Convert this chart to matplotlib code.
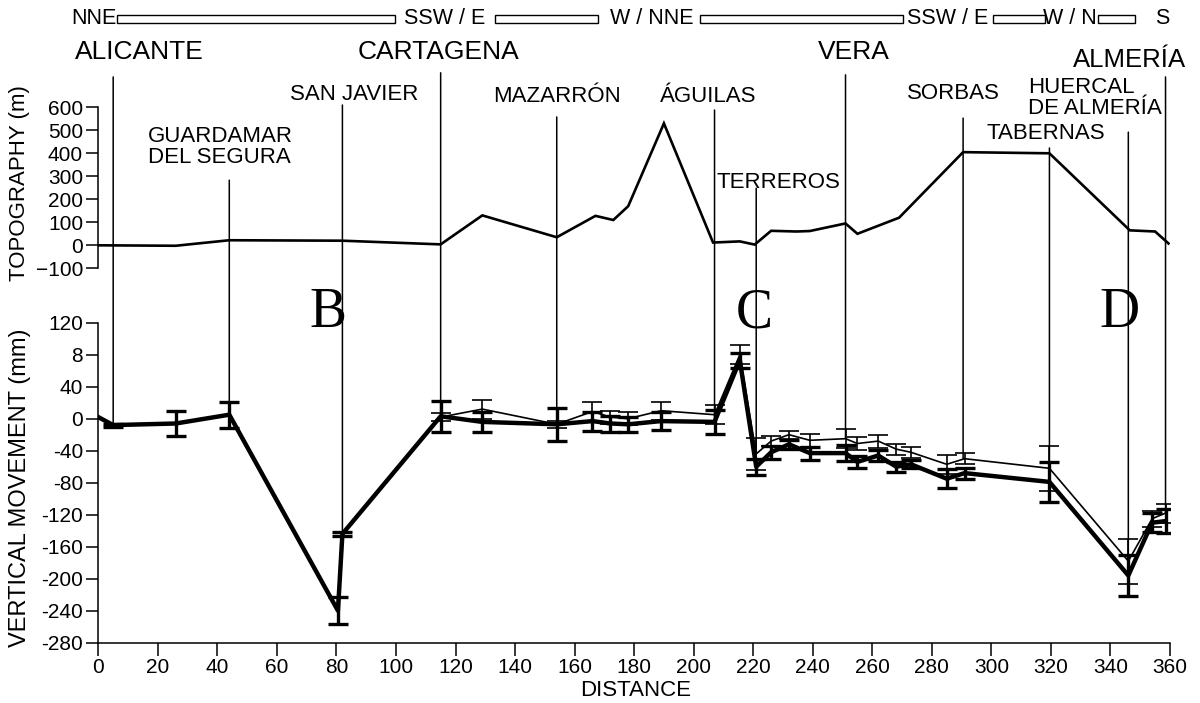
#!/usr/bin/env python3
"""Topography + levelling profile Alicante -> Almeria. -> out.png"""
import matplotlib
matplotlib.use("Agg")
import matplotlib.pyplot as plt
import matplotlib.transforms as mtransforms
from matplotlib.patches import Rectangle, ConnectionPatch
import numpy as np

plt.rcParams.update({"font.family": ["Liberation Sans", "DejaVu Sans"], "font.size": 15})

# topography profile (m)
topo_x = [0, 26, 44, 82, 115, 129, 154, 167, 173, 178, 190, 206.5, 215.5, 220.5, 226, 234.5, 239,
          251, 255, 269, 290.5, 319.5, 346.5, 355, 359.5]
topo_z = [0, -2, 22, 20, 4, 130, 35, 128, 110, 170, 530, 12, 17, 3, 63, 60, 62,
          95, 50, 120, 405, 400, 65, 60, 8]

# vertical movement, thick series (mm)
thick_x = [0, 5, 26, 44, 80.5, 82, 115, 129, 154, 166, 172, 178, 189, 207, 215.5, 221, 226, 232, 239,
           251, 255, 262, 268, 273, 285, 291, 319.5, 346, 354, 358.5]
thick_v = [2, -8, -6, 5, -240, -144, 3, -4, -7, -3, -6, -7, -3, -4, 73, -60, -42, -32, -43,
           -43, -54, -46, -60, -57, -75, -68, -79, -196, -130, -128]
thick_e = [0, 2, 16, 16, 17, 2, 19, 13, 21, 12, 10, 9, 11, 15, 9, 10, 8, 6, 8,
           10, 8, 7, 6, 5, 12, 7, 25, 26, 12, 15]

# vertical movement, thin series (mm)
thin_x = [115, 129, 154, 166, 172, 178, 189, 207, 215.5, 221, 226, 232, 239,
          251, 255, 262, 268, 273, 285, 291, 319.5, 346, 354, 358.5]
thin_v = [2, 12, -7, 9, 2, 0, 10, 5, 80, -44, -28, -20, -27,
          -25, -31, -28, -38, -42, -57, -50, -62, -178, -125, -118]
thin_e = [5, 12, 4, 12, 8, 8, 11, 12, 12, 20, 6, 5, 8,
          12, 8, 8, 7, 7, 12, 7, 28, 28, 10, 12]

# stations: name, x, line top (topo m), line base (mm), label left x, label y (topo m), size
stations = [
    ("ALICANTE", 5, 732, -8, -7.8, 841, 19),
    ("GUARDAMAR\nDEL SEGURA", 44, 283, 5, 16.7, 427, 16),
    ("SAN JAVIER", 82, 610, -144, 64.4, 654, 16),
    ("CARTAGENA", 115, 750, 3, 87.2, 841, 19),
    ("MAZARRÓN", 154, 558, -7, 132.6, 645, 16),
    ("ÁGUILAS", 207, 588, -4, 188.7, 649, 16),
    ("TERREROS", 221, 248, -44, 207.8, 275, 16),
    ("VERA", 251, 741, -25, 241.7, 841, 19),
    ("SORBAS", 290.5, 553, -50, 271.7, 662, 16),
    ("TABERNAS", 319.5, 423, -62, 298.5, 488, 16),
    ("HUERCAL\nDE ALMERÍA", 346, 492, -178, 312.3, 640, 16),
    ("ALMERÍA", 358.5, 732, -118, 327.4, 806, 18.5),
]

# direction bar
dir_labels = ["NNE", "SSW / E", "W / NNE", "SSW / E", "W / N", "S"]
dir_label_x = [6.0, 116.4, 185.8, 285.2, 326.2, 357.4]
dir_bars = [(6.3, 99.7), (133.3, 167.9), (202, 270.3), (300.5, 317.9), (335.8, 348.2)]

zones = [("B", 77.3), ("C", 220.5), ("D", 343)]

W, H = 1200, 703
fig = plt.figure(figsize=(W / 100, H / 100), dpi=100)
ax_mov = fig.add_axes([98.3 / W, 1 - 642.7 / H, 1071.7 / W, 320 / H])
ax_top = fig.add_axes([98.3 / W, 1 - 268.3 / H, 1071.7 / W, 161 / H])

# topography panel
ax_top.plot(topo_x, topo_z, color="black", lw=1.9, solid_joinstyle="miter")
ax_top.set_xlim(0, 360); ax_top.set_ylim(-100, 600)
for s in ("top", "right", "bottom"):
    ax_top.spines[s].set_visible(False)
ax_top.spines["left"].set_linewidth(1.1)
ax_top.set_xticks([])
ax_top.set_yticks(np.arange(-100, 601, 100))
ax_top.tick_params(axis="y", direction="out", length=9, width=1.1, pad=2, labelsize=15)
ax_top.patch.set_alpha(0)

# movement panel
ax_mov.plot(thin_x, thin_v, color="black", lw=1.2, zorder=3)
ax_mov.errorbar(thin_x, thin_v, yerr=thin_e, fmt="none", ecolor="black",
                elinewidth=1.2, capsize=7, capthick=1.2, zorder=3)
ax_mov.plot(thick_x, thick_v, color="black", lw=3.2, zorder=4)
ax_mov.errorbar(thick_x[1:], thick_v[1:], yerr=thick_e[1:], fmt="none", ecolor="black",
                elinewidth=2.4, capsize=7.5, capthick=2.4, zorder=4)
ax_mov.set_xlim(0, 360); ax_mov.set_ylim(-280, 120)
for s in ("top", "right"):
    ax_mov.spines[s].set_visible(False)
for s in ("left", "bottom"):
    ax_mov.spines[s].set_linewidth(1.1)
yt = np.arange(-280, 121, 40)
ax_mov.set_yticks(yt)
ax_mov.set_yticklabels(["8" if v == 80 else str(v) for v in yt])
ax_mov.set_xticks(np.arange(0, 361, 20))
ax_mov.tick_params(direction="out", length=9, width=1.1, pad=2, labelsize=15)
ax_mov.patch.set_alpha(0)
fig.text(636 / W, 1 - 690 / H, "DISTANCE", fontsize=16, ha="center", va="center")

# station lines and names
for name, x, top, base, lx, ly, fs in stations:
    con = ConnectionPatch(xyA=(x, top), coordsA=ax_top.transData,
                          xyB=(x, base), coordsB=ax_mov.transData,
                          color="black", lw=1.1, zorder=2)
    fig.add_artist(con)
    ax_top.text(lx, ly, name, fontsize=fs, ha="left", va="center",
                linespacing=1.05, clip_on=False)

# direction bar across the top
bt = mtransforms.blended_transform_factory(ax_top.transData, fig.transFigure)
for x0, x1 in dir_bars:
    fig.add_artist(Rectangle((x0, 1 - 23 / H), x1 - x0, 8 / H, transform=bt,
                             facecolor="white", edgecolor="black", lw=1.0))
for i, (lab, x) in enumerate(zip(dir_labels, dir_label_x)):
    fig.text(x, 1 - 19 / H, lab, transform=bt, fontsize=15.5,
             ha="right" if i == 0 else "center", va="center")

# zone letters
for lab, x in zones:
    ax_mov.text(x, 132, lab, fontsize=40, family="Liberation Serif",
                ha="center", va="center", clip_on=False)

fig.text(20 / W, 1 - 183 / H, "TOPOGRAPHY (m)", rotation=90, fontsize=16,
         ha="center", va="center")
fig.text(20 / W, 1 - 488 / H, "VERTICAL MOVEMENT (mm)", rotation=90, fontsize=17,
         ha="center", va="center")

fig.savefig("out.png", dpi=100)
